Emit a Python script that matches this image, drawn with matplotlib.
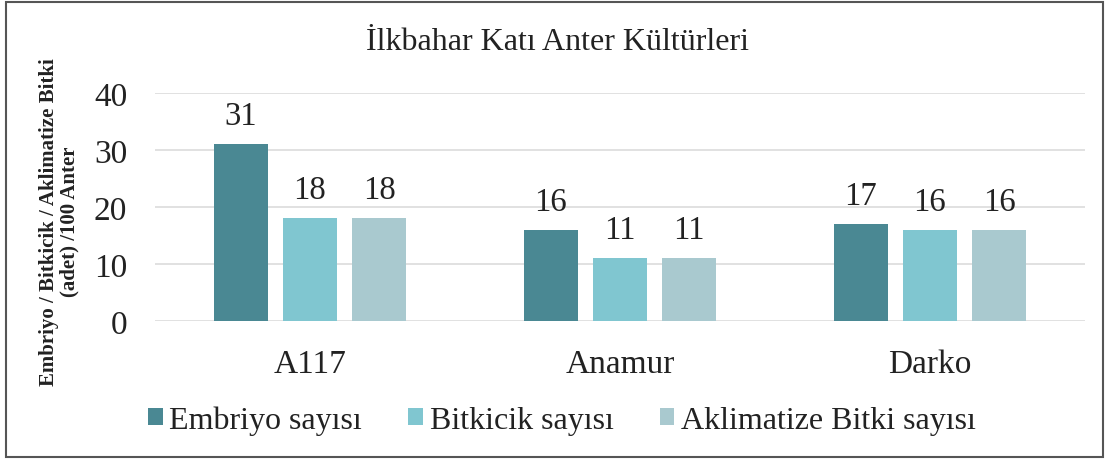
import matplotlib.pyplot as plt
import numpy as np
from matplotlib.patches import Rectangle

# Chart data
categories = ['A117', 'Anamur', 'Darko']
series_names = ['Embriyo sayısı', 'Bitkicik sayısı', 'Aklimatize Bitki sayısı']
embriyo = [31, 16, 17]
bitkicik = [18, 11, 16]
aklimatize = [18, 11, 16]
yticks = [0, 10, 20, 30, 40]

colors = ['#4a8893', '#80c6d0', '#a9c9cf']
plt.rcParams['font.family'] = ['Liberation Serif', 'DejaVu Serif']


def plot_chart():
    fig = plt.figure(figsize=(11.1, 4.64), dpi=100)
    ax = fig.add_axes([155 / 1110, 142 / 464, 930 / 1110, 228 / 464])

    x = np.arange(len(categories))
    width = 0.174
    step = 0.223
    for i, (vals, name, col) in enumerate(zip([embriyo, bitkicik, aklimatize], series_names, colors)):
        bars = ax.bar(x + (i - 1) * step, vals, width, color=col, label=name, zorder=3)
        for b, v in zip(bars, vals):
            ax.annotate(str(v), (b.get_x() + b.get_width() / 2, v), xytext=(0, 9.5),
                        textcoords='offset points', ha='center', va='bottom',
                        fontsize=23.5, color='#222222')

    ax.set_xlim(-0.5, 2.5)
    ax.set_ylim(0, 40)
    ax.set_yticks(yticks)
    ax.set_xticks(x)
    ax.set_xticklabels(categories)
    ax.tick_params(axis='both', length=0, labelsize=24, colors='#222222')
    ax.tick_params(axis='y', pad=20)
    ax.tick_params(axis='x', pad=20)
    ax.grid(axis='y', color='#dcdcdc', linewidth=1.2, zorder=0)
    for s in ['top', 'right', 'left', 'bottom']:
        ax.spines[s].set_visible(False)

    ax.set_ylabel('Embriyo / Bitkicik / Aklimatize Bitki\n(adet) /100 Anter',
                  fontsize=15, fontweight='bold', color='#222222',
                  linespacing=1.05)
    ax.yaxis.set_label_coords(-0.081, 0.44)

    fig.text(558 / 1110, 1 - 43 / 464, 'İlkbahar Katı Anter Kültürleri',
             ha='center', va='center', fontsize=23, color='#222222')

    fig.legend(loc='center', bbox_to_anchor=(562 / 1110, 1 - 421 / 464), ncol=3,
               frameon=False, fontsize=23, handlelength=0.46, handleheight=0.46,
               handletextpad=0.2, columnspacing=1.45, labelcolor='#222222')

    # outer frame
    fig.patches.append(Rectangle((6 / 1110, 6 / 464), 1097 / 1110, 455 / 464,
                                 transform=fig.transFigure, fill=False,
                                 edgecolor='#555555', linewidth=1.5))

    fig.savefig('out.png', dpi=100)


if __name__ == "__main__":
    plot_chart()
